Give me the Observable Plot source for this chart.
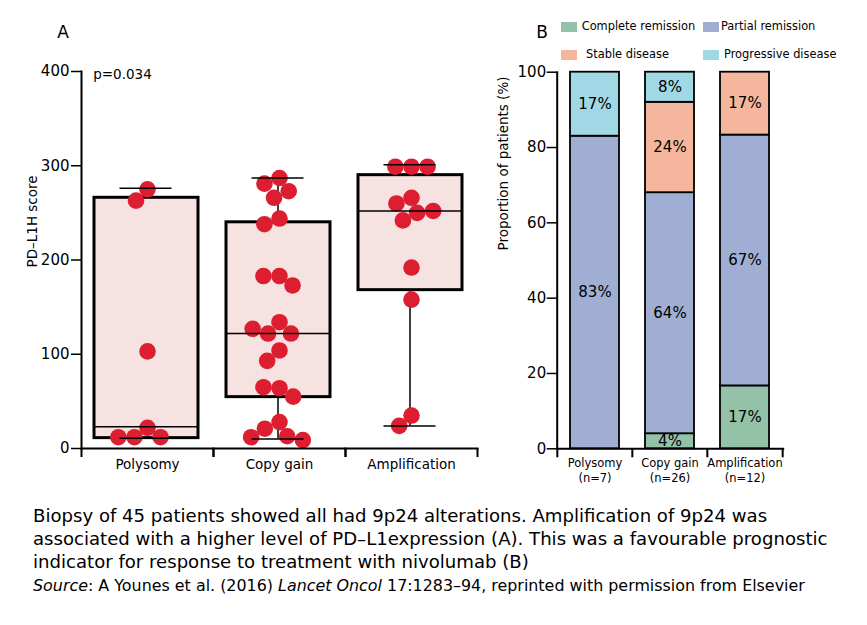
<!DOCTYPE html>
<html>
<head>
<meta charset="utf-8">
<script src="https://cdn.jsdelivr.net/npm/d3@7"></script>
<script src="https://cdn.jsdelivr.net/npm/@observablehq/plot@0.6"></script>
<style>
  html, body { margin: 0; padding: 0; background: #fff; }
  #root { position: relative; width: 867px; height: 625px; overflow: hidden; font-family: "DejaVu Sans", sans-serif; color: #000; }
  .abs { position: absolute; }
  .panel-letter { font-size: 17px; line-height: 1; transform: translate(-50%, -50%); }
  .sw { position: absolute; width: 16px; height: 10px; }
  .lg { position: absolute; font-size: 11.4px; line-height: 1; transform: translateY(-50%); white-space: nowrap; }
  #caption { left: 33px; top: 503.8px; font-size: 18.1px; line-height: 23.3px; white-space: nowrap; }
  #caption .src { font-size: 15.9px; }
</style>
</head>
<body>
<div id="root">
  <div id="panelA" class="abs" style="left:0;top:0"></div>
  <div id="panelB" class="abs" style="left:480px;top:0"></div>
  <div class="abs panel-letter" style="left:63px;top:32px">A</div>
  <div class="abs panel-letter" style="left:542px;top:32px">B</div>
  <div id="legend"></div>
  <div id="caption" class="abs"></div>
</div>
<script>
// ---------- Panel A data ----------
const categoriesA = ["Polysomy", "Copy gain", "Amplification"];
const polysomyScores = [275, 263, 103, 22, 12, 12, 12];
const copyGainScores = [287, 281, 273, 266, 244, 238, 183, 183, 173, 134, 122, 122, 127, 104, 93, 64, 65, 55, 28, 21, 13, 9, 12];
const amplificationScores = [299, 299, 299, 266, 260, 250, 252, 242, 192, 158, 35, 24];
const boxQ1 = [11, 54.5, 168];
const boxMedian = [23, 122, 252];
const boxQ3 = [266, 240, 290];
const whiskerLow = [11, 10, 24];
const whiskerHigh = [276, 287, 301];
const yTicksA = [0, 100, 200, 300, 400];
const yLabelA = "PD\u2013L1H score";
const pValueText = "p=0.034";

// ---------- Panel B data ----------
const categoriesB = ["Polysomy", "Copy gain", "Amplification"];
const groupSizes = [7, 26, 12];
const responses = ["Complete remission", "Partial remission", "Stable disease", "Progressive disease"];
const responseColors = ["#94c2a8", "#a0aed4", "#f4b79d", "#a0d8e6"];
const completeRemission = [0, 4, 16.7];
const partialRemission = [83, 64, 66.6];
const stableDisease = [0, 24, 16.7];
const progressiveDisease = [17, 8, 0];
const yTicksB = [0, 20, 40, 60, 80, 100];
const yLabelB = "Proportion of patients (%)";

// ---------- Caption ----------
const captionLines = [
  "Biopsy of 45 patients showed all had 9p24 alterations. Amplification of 9p24 was",
  "associated with a higher level of PD\u2013L1expression (A). This was a favourable prognostic",
  "indicator for response to treatment with nivolumab (B)"
];

// ---------- Build tables ----------
const scoreLists = [polysomyScores, copyGainScores, amplificationScores];
const points = categoriesA.flatMap((cat, i) => scoreLists[i].map(score => ({cat, score})));
const boxes = categoriesA.map((cat, i) => ({
  cat, q1: boxQ1[i], median: boxMedian[i], q3: boxQ3[i], lo: whiskerLow[i], hi: whiskerHigh[i]
}));

const seriesB = [completeRemission, partialRemission, stableDisease, progressiveDisease];
const rowsB = categoriesB.flatMap((cat, i) =>
  responses.map((response, j) => ({cat, response, value: seriesB[j][i], label: Math.round(seriesB[j][i]) + "%"}))
).filter(d => d.value > 0);

// ---------- Panel A ----------
const WA = 490, HA = 490, mlA = 81, mrA = 13, mtA = 71, mbA = 42;
const facetW = (WA - mlA - mrA) / categoriesA.length;
const xDomainA = [0, 1];
const xMidA = d3.mean(xDomainA);
const boxInsetL = 13, boxInsetR = 15;
const capHalf = 26;
const plotA = Plot.plot({
  width: WA, height: HA,
  marginLeft: mlA, marginRight: mrA, marginTop: mtA, marginBottom: mbA,
  style: {fontFamily: "DejaVu Sans", fontSize: "15px", background: "transparent", color: "black", overflow: "visible"},
  fx: {domain: categoriesA, padding: 0},
  x: {domain: xDomainA},
  y: {domain: [0, 400]},
  marks: [
    Plot.rectY(boxes, {fx: "cat", y1: "q1", y2: "q3", fill: "#f6e2e0", stroke: "black", strokeWidth: 3, insetLeft: boxInsetL, insetRight: boxInsetR}),
    Plot.ruleX(boxes, {fx: "cat", x: () => xMidA, y1: "lo", y2: "q1", stroke: "black", strokeWidth: 1.5, dx: -1.5}),
    Plot.ruleX(boxes, {fx: "cat", x: () => xMidA, y1: "q3", y2: "hi", stroke: "black", strokeWidth: 1.5, dx: -1.5}),
    Plot.dot(points, Plot.dodgeX({anchor: "middle", padding: -0.5}, {fx: "cat", y: "score", r: 8.3, fill: "#dc1e30"})),
    Plot.ruleY(boxes, {fx: "cat", y: "median", stroke: "black", strokeWidth: 1.5, insetLeft: boxInsetL, insetRight: boxInsetR}),
    Plot.ruleY(boxes, {fx: "cat", y: "hi", stroke: "black", strokeWidth: 1.5, insetLeft: facetW / 2 - capHalf - 1.5, insetRight: facetW / 2 - capHalf + 1.5}),
    Plot.ruleY(boxes, {fx: "cat", y: "lo", stroke: "black", strokeWidth: 1.5, insetLeft: facetW / 2 - capHalf - 1.5, insetRight: facetW / 2 - capHalf + 1.5}),
    Plot.axisY({ticks: yTicksA, tickSize: 10, tickPadding: 2, label: null, strokeWidth: 1.5, fontSize: 15}),
    Plot.frame({anchor: "left", facetAnchor: "left", strokeWidth: 2}),
    Plot.frame({anchor: "bottom", strokeWidth: 2}),
    Plot.axisX({ticks: xDomainA, tickFormat: () => "", tickSize: 9, strokeWidth: 2, label: null}),
    Plot.axisFx({anchor: "bottom", tickSize: 0, tickPadding: 11, label: null, fontSize: 13.5}),
    Plot.text([yLabelA], {frameAnchor: "left", facetAnchor: "left", rotate: -90, dx: -49.3, dy: 7.5, fontSize: 13.5}),
    Plot.text([pValueText], {frameAnchor: "top-left", facetAnchor: "left", textAnchor: "start", lineAnchor: "middle", dx: 11.7, dy: 3.3, fontSize: 13.5})
  ]
});
document.getElementById("panelA").append(plotA);

// ---------- Panel B ----------
const WB = 380, HB = 490, mlB = 76.7, mrB = 77.3, mtB = 71.7, mbB = 41.7;
const stepB = (WB - mlB - mrB) / categoriesB.length;
const frameHB = HB - mtB - mbB;
const nLookup = new Map(categoriesB.map((c, i) => [c, groupSizes[i]]));
const plotB = Plot.plot({
  width: WB, height: HB,
  marginLeft: mlB, marginRight: mrB, marginTop: mtB, marginBottom: mbB,
  style: {fontFamily: "DejaVu Sans", fontSize: "15px", background: "transparent", color: "black", overflow: "visible"},
  x: {domain: categoriesB, paddingInner: 0.35, paddingOuter: 0.175},
  y: {domain: [0, 100]},
  color: {domain: responses, range: responseColors},
  marks: [
    Plot.barY(rowsB, {x: "cat", y: "value", z: "response", fill: "response", stroke: "black", strokeWidth: 1.8, order: responses}),
    Plot.text(rowsB, Plot.stackY({x: "cat", y: "value", z: "response", text: "label", order: responses, fontSize: 15, clip: true})),
    Plot.axisY({ticks: yTicksB, tickSize: 10, tickPadding: 1, label: null, strokeWidth: 1.5, fontSize: 15}),
    Plot.frame({anchor: "left", strokeWidth: 2}),
    Plot.frame({anchor: "bottom", strokeWidth: 2}),
    Plot.ruleX(categoriesB, {x: d => d, dx: -stepB / 2, insetTop: frameHB, insetBottom: -9, strokeWidth: 2}),
    Plot.ruleX(categoriesB.slice(-1), {x: d => d, dx: stepB / 2, insetTop: frameHB, insetBottom: -9, strokeWidth: 2}),
    Plot.axisX({tickSize: 0, tickPadding: 8, label: null, fontSize: 11.5, lineHeight: 1.3, tickFormat: d => `${d}\n(n=${nLookup.get(d)})`}),
    Plot.text([yLabelB], {frameAnchor: "left", rotate: -90, dx: -53.7, dy: -10, fontSize: 13.5})
  ]
});
document.getElementById("panelB").append(plotB);

// ---------- Legend ----------
const legendPos = [
  {sx: 561, sy: 22, tx: 581.7, ty: 27},
  {sx: 702.5, sy: 22, tx: 721, ty: 27},
  {sx: 561, sy: 50, tx: 586, ty: 55},
  {sx: 702.5, sy: 50, tx: 724, ty: 55}
];
const legend = document.getElementById("legend");
responses.forEach((r, i) => {
  const p = legendPos[i];
  const sw = document.createElement("div");
  sw.className = "sw";
  sw.style.left = p.sx + "px"; sw.style.top = p.sy + "px";
  sw.style.background = responseColors[i];
  legend.append(sw);
  const t = document.createElement("div");
  t.className = "lg";
  t.style.left = p.tx + "px"; t.style.top = p.ty + "px";
  t.textContent = r;
  legend.append(t);
});

// ---------- Caption ----------
const cap = document.getElementById("caption");
cap.innerHTML = captionLines.map(l => `<div>${l}</div>`).join("") +
  `<div class="src"><i>Source</i>: A Younes et al. (2016) <i>Lancet Oncol</i> 17:1283\u201394, reprinted with permission from Elsevier</div>`;
</script>
</body>
</html>
